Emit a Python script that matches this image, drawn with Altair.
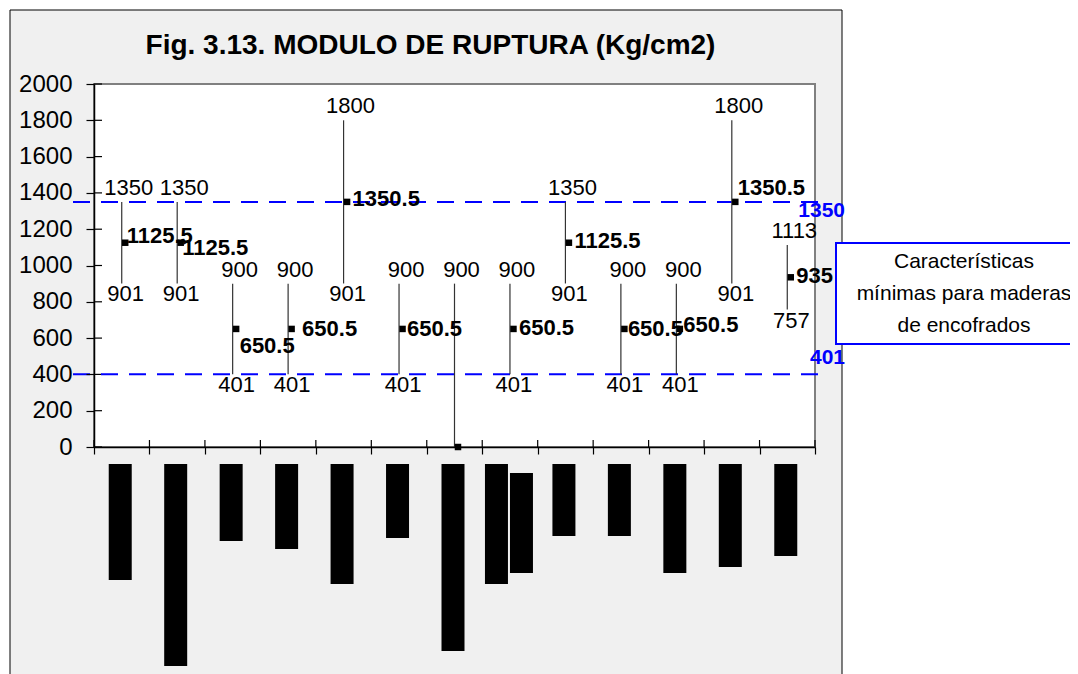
import altair as alt
import pandas as pd

# ---------------- data ----------------
categorias = [str(i) for i in range(1, 14)]
maximo = [1350, 1350, 900, 900, 1800, 900, 900, 900, 1350, 900, 900, 1800, 1113]
minimo = [901, 901, 401, 401, 901, 401, 0, 401, 901, 401, 401, 901, 757]
medio = [1125.5, 1125.5, 650.5, 650.5, 1350.5, 650.5, 0, 650.5, 1125.5, 650.5, 650.5, 1350.5, 935]

# small pixel nudges of the bold mid labels (as placed in the original)
nudge_dx = [-4, -4, -2, 5, 0, -1, 0, 0, 0, -2, -2, -3, 0]
nudge_dy = [-7, 5, 17, 0, -3, 0, 0, -1, -2, 0, -4, -14, -1]

# black blocks under the axis (category labels that rendered as solid blocks)
bloque_cat = [1, 2, 3, 4, 5, 6, 7, 8, 9, 10, 11, 12, 13, 8]
bloque_ini = [-94] * 13 + [-143]
bloque_fin = [-733, -1207, -518, -562, -755, -501, -1124, -755, -490, -490, -694, -661, -601, -694]
bloque_linea = [0] * 13 + [1]

limites = [1350, 401]
limite_txt = ["1350", "401"]
leyenda = "Características mínimas para maderas de encofrados"
leyenda_lineas = ["Características", "mínimas para maderas", "de encofrados"]
yticks = list(range(0, 2001, 200))
xticks = list(range(0, len(categorias) + 1))
titulo = "Fig. 3.13. MODULO DE RUPTURA (Kg/cm2)"

# ---------------- tables ----------------
df = pd.DataFrame({
    "cat": categorias,
    "xc": [i + 0.5 for i in range(len(categorias))],
    "maximo": maximo,
    "minimo": minimo,
    "medio": medio,
    "t_max": [f"{v:g}" for v in maximo],
    "t_min": [f"{v:g}" for v in minimo],
    "t_med": [f"{v:g}" for v in medio],
    "ndx": nudge_dx,
    "ndy": nudge_dy,
})
blk = pd.DataFrame({
    "xc": [c - 0.5 for c in bloque_cat],
    "ini": bloque_ini,
    "fin": bloque_fin,
    "linea": bloque_linea,
})
lim = pd.DataFrame({"valor": limites, "texto": limite_txt, "serie": [leyenda] * len(limites)})
ytk = pd.DataFrame({"v": yticks})
xtk = pd.DataFrame({"v": xticks})
one = pd.DataFrame({"a": [0]})

FONT = "Liberation Sans"
BLUE = "#0000ff"

x_scale = alt.Scale(domain=[0, len(categorias)], nice=False, zero=False)
y_scale = alt.Scale(domain=[0, 2000], nice=False, zero=False)

ax_x = alt.Axis(values=xticks, labels=False, title=None, grid=False,
                tickSize=7, tickColor="black", tickWidth=1.2, domainColor="black",
                domainWidth=1.5, zindex=1)
ax_y = alt.Axis(values=yticks, format="d", title=None, grid=False, labelFont=FONT,
                labelFontSize=24, labelColor="black", labelPadding=14, labelOverlap=False,
                tickSize=8, tickColor="black", tickWidth=1.2, domainColor="black",
                domainWidth=1.5, zindex=1)


def X(f):
    return alt.X(f, type="quantitative", scale=x_scale, axis=ax_x)


def Y(f):
    return alt.Y(f, type="quantitative", scale=y_scale, axis=ax_y)


frame = alt.Chart(one).mark_rect(fill="#f0f0f0", stroke="black", strokeWidth=1).encode(
    x=alt.value(-84), x2=alt.value(748), y=alt.value(-74), y2=alt.value(640))

plotbg = alt.Chart(one).mark_rect(fill="white", stroke="#808080", strokeWidth=2).encode(
    x=alt.value(0), x2=alt.value("width"), y=alt.value(0), y2=alt.value("height"))

# inner halves of the crossing tick marks
ytick_in = alt.Chart(ytk).mark_rule(color="black", strokeWidth=1.2).encode(
    y=Y("v"), x=alt.value(0), x2=alt.value(8))
xtick_in = alt.Chart(xtk).mark_rule(color="black", strokeWidth=1.2).encode(
    x=X("v"), y=alt.value(356), y2=alt.value(363))

legend_def = alt.Legend(
    orient="none", legendX=742, legendY=159,
    title=leyenda_lineas, titleFont=FONT, titleFontSize=21, titleFontWeight="normal",
    titleColor="black", titleAlign="center", titleAnchor="middle", titleLineHeight=32,
    titleBaseline="top", titlePadding=-14, titleLimit=400,
    labelExpr="''", labelFontSize=0, labelOffset=230,
    symbolSize=0, symbolOpacity=0, symbolStrokeWidth=0,
    strokeColor=BLUE, fillColor="white", padding=8, zindex=1,
)

limrule = alt.Chart(lim).mark_rule(strokeDash=[17, 11], strokeWidth=2).encode(
    y=Y("valor"), x=alt.value(-21), x2=alt.value(734),
    color=alt.Color("serie:N", scale=alt.Scale(domain=[leyenda], range=[BLUE]), legend=legend_def))

hilo = alt.Chart(df).mark_rule(color="#333333", strokeWidth=1.2).encode(
    x=X("xc"), y=Y("minimo"), y2=alt.Y2("maximo"))

marks = alt.Chart(df).mark_square(size=42, color="black", opacity=1, xOffset=3.5).encode(
    x=X("xc"), y=Y("medio"))

hi_lab = alt.Chart(df).mark_text(font=FONT, fontSize=22, color="black", align="center",
                                 baseline="alphabetic", dx=7, dy=-7).encode(
    x=X("xc"), y=Y("maximo"), text="t_max:N")

lo_lab = alt.Chart(df).transform_filter("datum.minimo > 0").mark_text(
    font=FONT, fontSize=22, color="black", align="center", baseline="alphabetic", dx=4, dy=18).encode(
    x=X("xc"), y=Y("minimo"), text="t_min:N")

mid_lab = alt.Chart(df).transform_filter("datum.medio > 0").mark_text(
    font=FONT, fontSize=22, fontWeight="bold", color="black", align="left", baseline="middle",
    dx={"expr": "9 + datum.ndx"}, dy={"expr": "datum.ndy"}).encode(
    x=X("xc"), y=Y("medio"), text="t_med:N")

lim_lab = alt.Chart(lim).mark_text(
    font=FONT, fontSize=21, fontWeight="bold", color=BLUE, align="right", baseline="middle",
    dy={"expr": "datum.valor > 1000 ? 9 : -16"}).encode(
    x=alt.value(751), y=Y("valor"), text="texto:N")

blk_a = alt.Chart(blk).transform_filter("datum.linea == 0 && datum.xc != 7.5").mark_rule(
    color="black", strokeWidth=23, strokeCap="butt", xOffset=-1.5).encode(
    x=X("xc"), y=Y("ini"), y2=alt.Y2("fin"))
blk_b = alt.Chart(blk).transform_filter("datum.linea == 0 && datum.xc == 7.5").mark_rule(
    color="black", strokeWidth=23, strokeCap="butt", xOffset=-13.5).encode(
    x=X("xc"), y=Y("ini"), y2=alt.Y2("fin"))
blk_c = alt.Chart(blk).transform_filter("datum.linea == 1").mark_rule(
    color="black", strokeWidth=23, strokeCap="butt", xOffset=11.5).encode(
    x=X("xc"), y=Y("ini"), y2=alt.Y2("fin"))

chart = alt.layer(
    frame, plotbg, ytick_in, xtick_in, limrule, hilo, marks, hi_lab, lo_lab, mid_lab, lim_lab,
    blk_a, blk_b, blk_c
).properties(
    width=721, height=363,
    padding={"left": 86, "top": 76, "right": 255, "bottom": 227},
    autosize=alt.AutoSizeParams(type="none"),
    background="white",
    title=alt.Title(titulo, font=FONT, fontSize=28, fontWeight="bold", color="black",
                    anchor="middle", frame="group", dx=-24, offset=-72,
                    baseline="alphabetic", zindex=1),
).configure_view(strokeWidth=0).configure_legend(strokeWidth=2)

chart.save("out.html", embed_options={"renderer": "svg", "actions": False})
